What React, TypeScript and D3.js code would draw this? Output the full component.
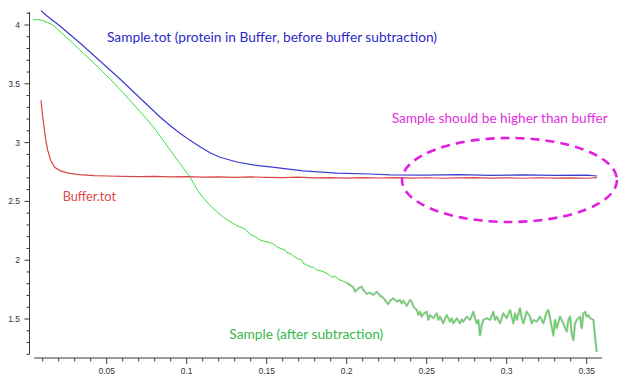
import React from "react";
import * as d3 from "d3";

type P = [number, number];

// q (x) and intensity (y, log scale units)
const sampleTot: P[] = [
  [0.0089, 4.122], [0.0108, 4.1], [0.0127, 4.077], [0.0208, 3.991], [0.0333, 3.847],
  [0.0458, 3.694], [0.0583, 3.541], [0.0708, 3.379], [0.0833, 3.218], [0.0896, 3.146],
  [0.0958, 3.08], [0.1021, 3.019], [0.1083, 2.964], [0.1146, 2.913], [0.1208, 2.875],
  [0.1314, 2.835], [0.1414, 2.81], [0.1521, 2.793], [0.1727, 2.76], [0.1939, 2.741],
  [0.2146, 2.733], [0.2271, 2.726], [0.25, 2.724], [0.27, 2.727], [0.29, 2.722],
  [0.31, 2.725], [0.33, 2.721], [0.35, 2.723], [0.3565, 2.716],
];

const bufferTot: P[] = [
  [0.0089, 3.36], [0.01, 3.22], [0.0115, 3.06], [0.013, 2.94], [0.015, 2.85],
  [0.0175, 2.79], [0.021, 2.76], [0.026, 2.74], [0.033, 2.728], [0.042, 2.72],
  [0.05, 2.716], [0.06, 2.712], [0.07, 2.71], [0.08, 2.712], [0.09, 2.708],
  [0.1, 2.71], [0.11, 2.706], [0.12, 2.709], [0.13, 2.704], [0.14, 2.708],
  [0.15, 2.705], [0.16, 2.702], [0.17, 2.706], [0.18, 2.7], [0.19, 2.703],
  [0.2, 2.698], [0.21, 2.702], [0.22, 2.699], [0.23, 2.703], [0.24, 2.698],
  [0.25, 2.701], [0.26, 2.697], [0.27, 2.7], [0.28, 2.702], [0.29, 2.698],
  [0.3, 2.7], [0.31, 2.697], [0.32, 2.701], [0.33, 2.698], [0.34, 2.7],
  [0.35, 2.697], [0.3565, 2.702],
];

const sampleSub: P[] = [
  [0.0041, 4.043], [0.007, 4.046], [0.0102, 4.038], [0.0164, 4.0], [0.0208, 3.945],
  [0.0271, 3.868], [0.0333, 3.787], [0.0396, 3.707], [0.0458, 3.626], [0.0521, 3.541],
  [0.0583, 3.452], [0.0646, 3.358], [0.0708, 3.264], [0.075, 3.2], [0.0802, 3.116],
  [0.0833, 3.056], [0.0896, 2.937], [0.0958, 2.822], [0.1021, 2.707], [0.1042, 2.655],
  [0.1073, 2.585], [0.1104, 2.53], [0.1146, 2.465], [0.1188, 2.413], [0.1229, 2.365],
  [0.1271, 2.328], [0.1313, 2.294], [0.1354, 2.271], [0.1375, 2.251], [0.1396, 2.223],
  [0.1427, 2.2], [0.1458, 2.172], [0.149, 2.158], [0.1521, 2.149], [0.1542, 2.138],
  [0.1563, 2.115], [0.1583, 2.101], [0.1615, 2.087], [0.1625, 2.064], [0.1646, 2.058],
  [0.1667, 2.036], [0.1688, 2.016], [0.1719, 2.002], [0.1729, 1.973], [0.175, 1.959],
  [0.1771, 1.945], [0.1792, 1.939], [0.1813, 1.917], [0.1833, 1.911], [0.1854, 1.902],
  [0.1885, 1.883], [0.1906, 1.854], [0.1927, 1.866], [0.1948, 1.837], [0.1969, 1.826],
  [0.2, 1.809], [0.2021, 1.789], [0.2042, 1.769], [0.2052, 1.732], [0.2073, 1.761],
  [0.2094, 1.775], [0.2104, 1.747], [0.2125, 1.713], [0.2146, 1.724], [0.2167, 1.704],
  [0.2188, 1.732], [0.2208, 1.7], [0.2229, 1.68], [0.225, 1.64], [0.226, 1.625],
  [0.2271, 1.655], [0.2292, 1.676], [0.2313, 1.648], [0.2333, 1.662], [0.2344, 1.633],
  [0.2354, 1.656], [0.2375, 1.611], [0.2396, 1.662], [0.2406, 1.648], [0.2417, 1.605],
  [0.2438, 1.577], [0.2448, 1.534], [0.2458, 1.562], [0.2469, 1.52], [0.2479, 1.543],
  [0.25, 1.562], [0.251, 1.492], [0.2521, 1.534], [0.2542, 1.506], [0.2563, 1.548],
  [0.2573, 1.492], [0.2583, 1.52], [0.2604, 1.463], [0.2615, 1.506], [0.2625, 1.534],
  [0.2646, 1.477], [0.2656, 1.506], [0.2667, 1.463], [0.2688, 1.506], [0.2708, 1.463],
  [0.2719, 1.497], [0.2729, 1.477], [0.275, 1.52], [0.2771, 1.492], [0.2792, 1.562],
  [0.2802, 1.506], [0.2813, 1.463], [0.2823, 1.492], [0.2833, 1.36], [0.2844, 1.449],
  [0.2854, 1.492], [0.2875, 1.506], [0.2896, 1.492], [0.2917, 1.562], [0.2927, 1.492],
  [0.2938, 1.52], [0.2958, 1.463], [0.2979, 1.548], [0.3, 1.506], [0.3021, 1.577],
  [0.3031, 1.52], [0.3042, 1.463], [0.3052, 1.548], [0.3063, 1.492], [0.3083, 1.591],
  [0.3094, 1.506], [0.3104, 1.463], [0.3125, 1.562], [0.3146, 1.52], [0.3156, 1.463],
  [0.3167, 1.492], [0.3188, 1.477], [0.3208, 1.52], [0.3229, 1.463], [0.325, 1.562],
  [0.326, 1.577], [0.3271, 1.506], [0.3281, 1.435], [0.3292, 1.36], [0.3302, 1.492],
  [0.3313, 1.421], [0.3333, 1.52], [0.3354, 1.463], [0.3375, 1.392], [0.3385, 1.492],
  [0.3396, 1.52], [0.3406, 1.378], [0.3417, 1.32], [0.3427, 1.463], [0.3438, 1.492],
  [0.3458, 1.52], [0.3469, 1.421], [0.3479, 1.548], [0.349, 1.562], [0.35, 1.52],
  [0.351, 1.534], [0.3521, 1.506], [0.3542, 1.492], [0.3552, 1.35], [0.3563, 1.22],
];

const xMajorTicks = [0.05, 0.1, 0.15, 0.2, 0.25, 0.3, 0.35];
const xTickLabels = ["0.05", "0.1", "0.15", "0.2", "0.25", "0.3", "0.35"];
const yMajorTicks = [1.5, 2, 2.5, 3, 3.5, 4];
const yTickLabels = ["1.5", "2", "2.5", "3", "3.5", "4"];
const xMinorTicks = [
  0.01, 0.02, 0.03, 0.04, 0.06, 0.07, 0.08, 0.09, 0.11, 0.12, 0.13, 0.14, 0.16, 0.17,
  0.18, 0.19, 0.21, 0.22, 0.23, 0.24, 0.26, 0.27, 0.28, 0.29, 0.31, 0.32, 0.33, 0.34,
];
const yMinorTicks = [
  1.2, 1.3, 1.4, 1.6, 1.7, 1.8, 1.9, 2.1, 2.2, 2.3, 2.4, 2.6, 2.7, 2.8, 2.9, 3.1, 3.2,
  3.3, 3.4, 3.6, 3.7, 3.8, 3.9, 4.1,
];
const xExtent = [0.0046, 0.3596];
const yExtent = [1.2, 4.11];

const W = 624;
const H = 382;

export default function App() {
  const x = d3.scaleLinear().domain([0, 0.35]).range([26.7, 586.7]);
  const y = d3.scaleLinear().domain([1.5, 4]).range([319, 25]);
  const line = d3
    .line<P>()
    .x((d) => x(d[0]))
    .y((d) => y(d[1]));

  const axisY = 358;
  const axisX = 29.5;
  const axisColor = "#3a3a3a";
  const tickFont = "'Liberation Sans', Arial, sans-serif";
  const labelFont = "Lato, 'Open Sans', sans-serif";
  const noisy = sampleSub.filter((d) => d[0] >= 0.2);

  return (
    <svg
      width={W}
      height={H}
      style={{ position: "absolute", left: 0, top: 0, background: "#fff" }}
    >
      <rect width={W} height={H} fill="#fff" />
      {/* Y axis */}
      <line x1={axisX} x2={axisX} y1={y(yExtent[0])} y2={y(yExtent[1])} stroke={axisColor} strokeWidth={1} />
      {yMajorTicks.map((t) => (
        <line key={"ym" + t} x1={axisX - 5} x2={axisX} y1={y(t)} y2={y(t)} stroke={axisColor} />
      ))}
      {yMinorTicks.map((t) => (
        <line key={"yn" + t} x1={axisX - 3} x2={axisX} y1={y(t)} y2={y(t)} stroke={axisColor} />
      ))}
      {yMajorTicks.map((t, i) => (
        <text key={"yl" + t} x={20} y={y(t)} dy="0.35em" textAnchor="end" fontSize={8.5} fontFamily={tickFont} fill="#333">
          {yTickLabels[i]}
        </text>
      ))}
      {/* X axis */}
      <line x1={x(xExtent[0])} x2={x(xExtent[1])} y1={axisY} y2={axisY} stroke={axisColor} strokeWidth={1} />
      {xMajorTicks.map((t) => (
        <line key={"xm" + t} x1={x(t)} x2={x(t)} y1={axisY} y2={axisY + 6} stroke={axisColor} />
      ))}
      {xMinorTicks.map((t) => (
        <line key={"xn" + t} x1={x(t)} x2={x(t)} y1={axisY} y2={axisY + 3.5} stroke={axisColor} />
      ))}
      {xMajorTicks.map((t, i) => (
        <text key={"xl" + t} x={x(t)} y={374} textAnchor="middle" fontSize={8.5} fontFamily={tickFont} fill="#333">
          {xTickLabels[i]}
        </text>
      ))}

      {/* curves */}
      <path d={line(noisy) || ""} fill="none" stroke="#bdbdbd" strokeWidth={2.4} strokeLinejoin="round" opacity={0.85} />
      <path d={line(sampleSub) || ""} fill="none" stroke="#40dd40" strokeWidth={1} />
      <path d={line(bufferTot) || ""} fill="none" stroke="#d84545" strokeWidth={1.2} />
      <path d={line(sampleTot) || ""} fill="none" stroke="#3b3bd0" strokeWidth={1.2} />

      {/* annotations */}
      <text x={107} y={41.7} fontSize={13.5} fontFamily={labelFont} fill="#2a2ac8" textLength={330} lengthAdjust="spacingAndGlyphs">
        Sample.tot (protein in Buffer, before buffer subtraction)
      </text>
      <text x={391.7} y={122.7} fontSize={14} fontFamily={labelFont} fill="#e030e0" textLength={216} lengthAdjust="spacingAndGlyphs">
        Sample should be higher than buffer
      </text>
      <text x={62.7} y={200.7} fontSize={13} fontFamily={labelFont} fill="#e04848" textLength={53.3} lengthAdjust="spacingAndGlyphs">
        Buffer.tot
      </text>
      <text x={229.3} y={339} fontSize={13.5} fontFamily={labelFont} fill="#38b84c" textLength={154} lengthAdjust="spacingAndGlyphs">
        Sample (after subtraction)
      </text>
      <ellipse cx={509.5} cy={180} rx={107.5} ry={42} fill="none" stroke="#e020e0" strokeWidth={2.6} strokeDasharray="9 6" />
    </svg>
  );
}
